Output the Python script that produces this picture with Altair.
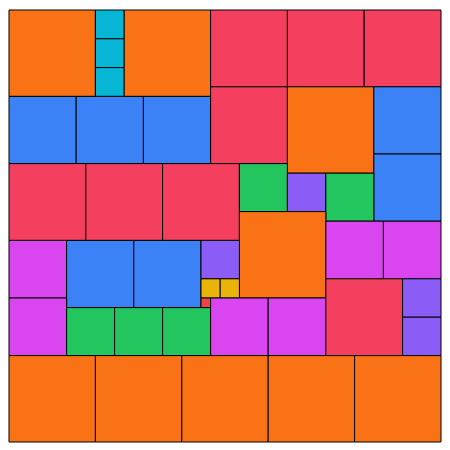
import altair as alt
import pandas as pd

# rectangles: x0, x1, y0, y1 (in chart units 0-450), colour group
x0 = [0, 90, 90, 90, 120, 210, 290, 370,
      0, 70, 140, 210, 290, 380, 380,
      0, 80, 160, 240, 290, 330, 240, 330, 390,
      0, 60, 130, 200, 200, 220, 200, 0, 60, 110, 160, 210, 270, 330, 410, 410,
      0, 90, 180, 270, 360]
x1 = [90, 120, 120, 120, 210, 290, 370, 450,
      70, 140, 210, 290, 380, 450, 450,
      80, 160, 240, 290, 330, 380, 330, 390, 450,
      60, 130, 200, 240, 220, 240, 210, 60, 110, 160, 210, 270, 330, 410, 450, 450,
      90, 180, 270, 360, 450]
y0 = [0, 0, 30, 60, 0, 0, 0, 0,
      90, 90, 90, 80, 80, 80, 150,
      160, 160, 160, 160, 170, 170, 210, 220, 220,
      240, 240, 240, 240, 280, 280, 300, 300, 310, 310, 310, 300, 300, 280, 280, 320,
      360, 360, 360, 360, 360]
y1 = [90, 30, 60, 90, 90, 80, 80, 80,
      160, 160, 160, 160, 170, 150, 220,
      240, 240, 240, 210, 210, 220, 300, 280, 280,
      300, 310, 310, 280, 300, 300, 310, 360, 360, 360, 360, 360, 360, 360, 320, 360,
      450, 450, 450, 450, 450]
group = ["orange", "cyan", "cyan", "cyan", "orange", "rose", "rose", "rose",
         "blue", "blue", "blue", "rose", "orange", "blue", "blue",
         "rose", "rose", "rose", "green", "violet", "green", "orange", "fuchsia", "fuchsia",
         "fuchsia", "blue", "blue", "violet", "yellow", "yellow", "red", "fuchsia",
         "green", "green", "green", "fuchsia", "fuchsia", "rose", "violet", "violet",
         "orange", "orange", "orange", "orange", "orange"]

groups = ["orange", "cyan", "rose", "blue", "green", "violet", "fuchsia", "yellow", "red"]
colors = ["#f97316", "#06b6d4", "#f43f5e", "#3b82f6", "#22c55e", "#8b5cf6", "#d946ef", "#eab308", "#ef4444"]

df = pd.DataFrame({"x0": x0, "x1": x1, "y0": y0, "y1": y1, "g": group})

sx = alt.Scale(domain=[0, 450], nice=False, zero=False)
sy = alt.Scale(domain=[0, 450], nice=False, zero=False, reverse=True)

chart = alt.Chart(df).mark_rect(stroke="black", strokeWidth=1).encode(
    x=alt.X("x0:Q", scale=sx, axis=None),
    x2="x1:Q",
    y=alt.Y("y0:Q", scale=sy, axis=None),
    y2="y1:Q",
    color=alt.Color("g:N", scale=alt.Scale(domain=groups, range=colors), legend=None),
).properties(width=434, height=434, padding=0).configure_view(strokeWidth=0)

chart.save("out.html", embed_options={"renderer": "svg", "actions": False})
